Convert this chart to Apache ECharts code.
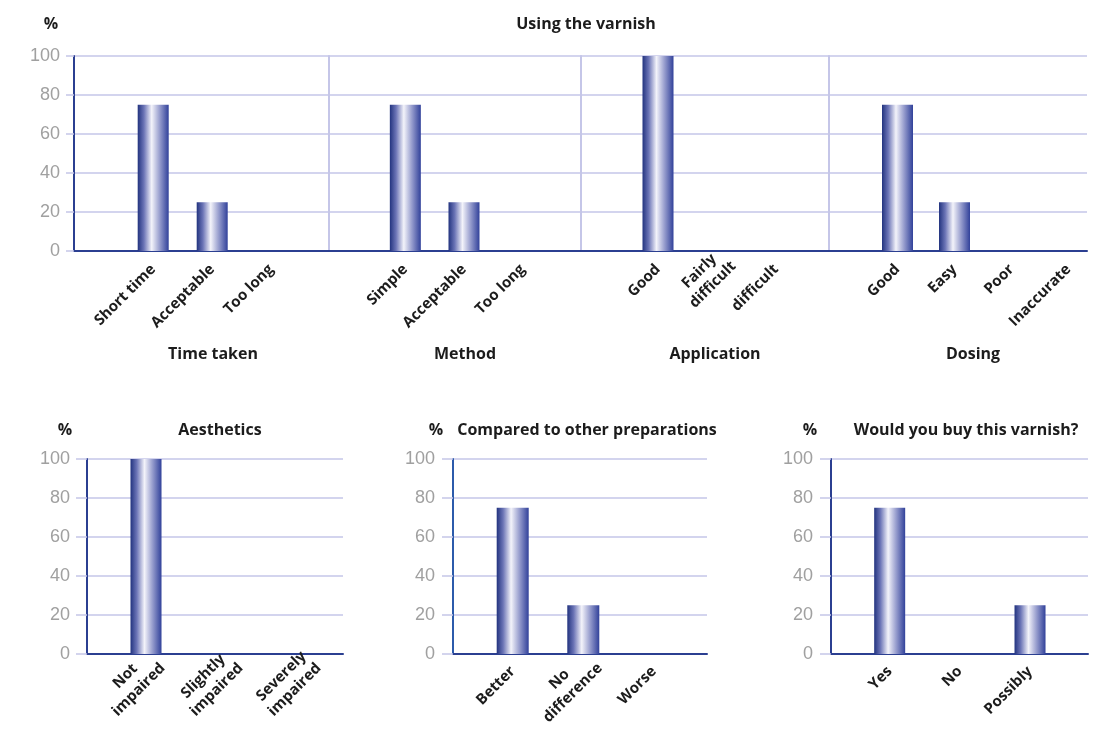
<!DOCTYPE html>
<html>
<head>
<meta charset="utf-8">
<script src="https://cdn.jsdelivr.net/npm/echarts@6/dist/echarts.min.js"></script>
<style>
html,body{margin:0;padding:0;background:#fff;}
#c{width:1097px;height:729px;}
</style>
</head>
<body>
<div id="c"></div>
<script>
// ---- data ----
var yTicks = [0, 20, 40, 60, 80, 100];
var timeTakenCats = ['Short time', 'Acceptable', 'Too long'];
var timeTakenVals = [75, 25, 0];
var methodCats = ['Simple', 'Acceptable', 'Too long'];
var methodVals = [75, 25, 0];
var applicationCats = ['Good', 'Fairly\ndifficult', 'difficult'];
var applicationVals = [100, 0, 0];
var dosingCats = ['Good', 'Easy', 'Poor', 'Inaccurate'];
var dosingVals = [75, 25, 0, 0];
var aestheticsCats = ['Not\nimpaired', 'Slightly\nimpaired', 'Severely\nimpaired'];
var aestheticsVals = [100, 0, 0];
var comparedCats = ['Better', 'No\ndifference', 'Worse'];
var comparedVals = [75, 25, 0];
var buyCats = ['Yes', 'No', 'Possibly'];
var buyVals = [75, 0, 25];

var titles = {
  top: 'Using the varnish',
  sections: ['Time taken', 'Method', 'Application', 'Dosing'],
  aesthetics: 'Aesthetics',
  compared: 'Compared to other preparations',
  buy: 'Would you buy this varnish?'
};

// ---- styles ----
var AXIS_DARK = '#2b3f91';
var GRID_LIGHT = '#c5c6e8';
var TEXT = '#1c1c1c';
var FONT = '"Open Sans", "Noto Sans", sans-serif';
var barGradient = new echarts.graphic.LinearGradient(0, 0, 1, 0, [
  {offset: 0, color: '#22337f'},
  {offset: 0.2, color: '#6b74b6'},
  {offset: 0.45, color: '#f3f3fa'},
  {offset: 0.7, color: '#9aa0cf'},
  {offset: 1, color: '#31419a'}
]);

var grids = [], xAxes = [], yAxes = [], series = [];

function gridRect(rect) {
  return {left: rect[0], top: rect[1], width: rect[2], height: rect[3],
    containLabel: false, outerBoundsMode: 'none'};
}

function addBackground(rect, showLabels, axisColor, tickLen, labelMargin) {
  var gi = grids.length;
  grids.push(gridRect(rect));
  xAxes.push({
    gridIndex: gi, type: 'value', min: 0, max: 1,
    axisLine: {show: true, onZero: false, lineStyle: {color: AXIS_DARK, width: 2}},
    axisTick: {show: false}, axisLabel: {show: false}, splitLine: {show: false}
  });
  yAxes.push({
    gridIndex: gi, type: 'value', min: 0, max: 100, interval: 20,
    axisLine: {show: true, lineStyle: {color: axisColor, width: 2}},
    axisTick: {show: showLabels, length: tickLen || 8, lineStyle: {color: GRID_LIGHT, width: 1.5}},
    axisLabel: {show: showLabels, color: '#a0a0a0', fontSize: 18,
      fontFamily: '"Liberation Sans", Arial, sans-serif', margin: labelMargin || 14},
    splitLine: {show: true, lineStyle: {color: GRID_LIGHT, width: 1.5}}
  });
  series.push({type: 'bar', xAxisIndex: gi, yAxisIndex: gi, data: [], silent: true});
}

function labelFormatter(v) {
  if (v.indexOf('\n') < 0) return v;
  return v.split('\n').map(function (s) { return '{c|' + s + '}'; }).join('\n');
}

// multi-line labels are set forward along their slant, as in the original
function categoryItems(cats) {
  return cats.map(function (c) {
    return c.indexOf('\n') < 0 ? c : {value: c, textStyle: {padding: [0, -14, 0, 0]}};
  });
}

function addBars(rect, cats, vals, barW, margin) {
  var gi = grids.length;
  grids.push(gridRect(rect));
  xAxes.push({
    gridIndex: gi, type: 'category', data: categoryItems(cats),
    axisLine: {show: false}, axisTick: {show: false},
    axisLabel: {show: true, rotate: 45, interval: 0, margin: margin, color: TEXT,
      fontSize: 15, fontWeight: 'bold', fontFamily: FONT, lineHeight: 19,
      formatter: labelFormatter,
      rich: {c: {align: 'center', color: TEXT, fontSize: 15, fontWeight: 'bold', fontFamily: FONT, lineHeight: 19}}}
  });
  yAxes.push({gridIndex: gi, type: 'value', min: 0, max: 100, show: false});
  series.push({
    type: 'bar', xAxisIndex: gi, yAxisIndex: gi, data: vals, barWidth: barW,
    itemStyle: {color: barGradient}, silent: true
  });
}

// top panel backgrounds (sections)
var topY = 56, topH = 195;
addBackground([74, topY, 255, topH], true, AXIS_DARK, 8, 14);
addBackground([329, topY, 252, topH], false, GRID_LIGHT);
addBackground([581, topY, 248, topH], false, GRID_LIGHT);
addBackground([829, topY, 258, topH], false, GRID_LIGHT);
// top bars
addBars([123.7, topY, 177, topH], timeTakenCats, timeTakenVals, 31, 16);
addBars([376, topY, 176, topH], methodCats, methodVals, 31, 16);
addBars([628.5, topY, 177, topH], applicationCats, applicationVals, 31, 16);
addBars([869, topY, 228, topH], dosingCats, dosingVals, 31, 16);

// bottom panels
var botY = 459, botH = 195;
addBackground([87, botY, 256, botH], true, AXIS_DARK, 11, 17);
addBackground([453, botY, 254, botH], true, '#2c5bab', 11, 18);
addBackground([831, botY, 257, botH], true, AXIS_DARK, 11, 18);
addBars([107, botY, 234, botH], aestheticsCats, aestheticsVals, 31, 15);
addBars([477.4, botY, 211.8, botH], comparedCats, comparedVals, 32, 15);
addBars([854.6, botY, 210.5, botH], buyCats, buyVals, 31, 15);

function t(text, x, y, align) {
  return {text: text, left: x, top: y, textAlign: align || 'center',
    textStyle: {color: TEXT, fontSize: 16, fontWeight: 'bold', fontFamily: FONT}};
}

var titleList = [
  t('%', 46, 11),
  t(titles.top, 581, 11),
  t(titles.sections[0], 208, 341),
  t(titles.sections[1], 460, 341),
  t(titles.sections[2], 710, 341),
  t(titles.sections[3], 968, 341),
  t('%', 60, 417),
  t(titles.aesthetics, 215, 417),
  t('%', 431, 417),
  t(titles.compared, 582, 417),
  t('%', 805, 417),
  t(titles.buy, 961, 417)
];

var chart = echarts.init(document.getElementById('c'), null, {renderer: 'canvas'});
chart.setOption({
  backgroundColor: '#ffffff',
  animation: false,
  title: titleList,
  grid: grids,
  xAxis: xAxes,
  yAxis: yAxes,
  series: series
});
</script>
</body>
</html>
